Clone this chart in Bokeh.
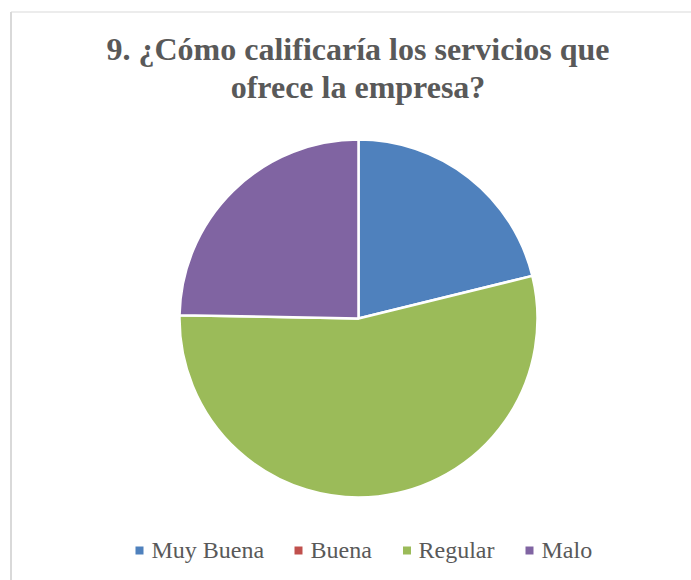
import math
from bokeh.plotting import figure
from bokeh.models import Range1d, ColumnDataSource
from bokeh.core.properties import value
from bokeh.embed import file_html
from bokeh.resources import INLINE

# ---- data ----
categories = ["Muy Buena", "Buena", "Regular", "Malo"]
counts = [18, 0, 46, 21]
colors = ["#4F81BD", "#C0504D", "#9BBB59", "#8064A2"]
title_lines = ["9. ¿Cómo calificaría los servicios que", "ofrece la empresa?"]

W, H = 691, 580
p = figure(width=W, height=H, output_backend="svg", toolbar_location=None,
           x_range=Range1d(0, W), y_range=Range1d(0, H), min_border=0)
p.axis.visible = False
p.grid.visible = False
p.outline_line_color = None
p.background_fill_color = "white"
p.border_fill_color = "white"

def Y(py):
    return H - py

# chart area border (left + top visible)
p.line(x=[10.5, 10.5], y=[Y(590), Y(11.5)], line_color="#D9D9D9", line_width=2)
p.line(x=[10.5, 700], y=[Y(11.5), Y(11.5)], line_color="#D9D9D9", line_width=1.2)

# title
font = value("Liberation Serif")
for i, line in enumerate(title_lines):
    p.text(x=[357.5], y=[Y(48 + 38 * i)], text=[line], text_font=font,
           text_font_size="32px", text_font_style="bold", text_color="#595959",
           text_align="center", text_baseline="alphabetic")

# pie
total = float(sum(counts))
cx, cy, r = 358, Y(318), 179
starts, ends, cols = [], [], []
ang = math.pi / 2
for c, col in zip(counts, colors):
    span = c / total * 2 * math.pi
    if c > 0:
        starts.append(ang)
        ends.append(ang - span)
        cols.append(col)
    ang -= span
src = ColumnDataSource(dict(x=[cx] * len(starts), y=[cy] * len(starts),
                            start=starts, end=ends, color=cols))
p.wedge(x="x", y="y", radius=r, start_angle="start", end_angle="end",
        direction="clock", fill_color="color", line_color="white",
        line_width=2.5, source=src)

# legend
sq_x = [139, 298, 406.5, 529]
tx_x = [151, 310, 418, 541]
p.scatter(x=sq_x, y=[Y(550)] * 4, marker="square", size=8,
          fill_color=colors, line_color=None)
p.text(x=tx_x, y=[Y(549)] * 4, text=categories, text_font=font,
       text_font_size="24px", text_color="#595959", text_align="left",
       text_baseline="alphabetic")

open("out.html", "w").write(file_html(p, INLINE))
